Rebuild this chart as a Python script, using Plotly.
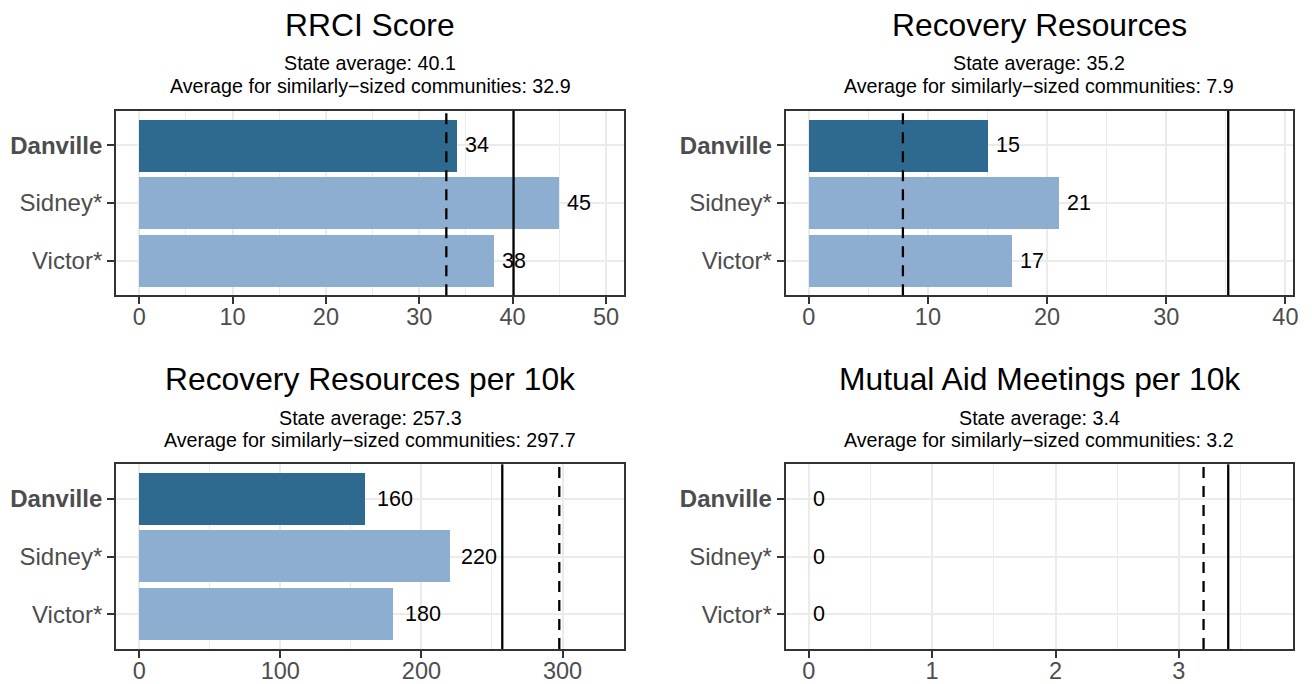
import plotly.graph_objects as go

# ---------------- data ----------------
communities = ["Danville", "Sidney*", "Victor*"]
highlight = "Danville"
metric_titles = ["RRCI Score", "Recovery Resources",
                 "Recovery Resources per 10k", "Mutual Aid Meetings per 10k"]
rrci_score = [34, 45, 38]
recovery_resources = [15, 21, 17]
recovery_resources_per10k = [160, 220, 180]
mutual_aid_per10k = [0, 0, 0]
state_avg = [40.1, 35.2, 257.3, 3.4]
similar_avg = [32.9, 7.9, 297.7, 3.2]
major_dtick = [10, 10, 100, 1]

series = [rrci_score, recovery_resources, recovery_resources_per10k, mutual_aid_per10k]

# ---------------- style ----------------
W, H = 1312, 684
FONT = "Liberation Sans, Arial, Helvetica, sans-serif"
DARK = "#2E6A8F"
LIGHT = "#8DAED1"
GRID = "#EBEBEB"
BORDER = "#333333"
TICKTXT = "#4D4D4D"

# panel boxes in pixels: (left, right, top, bottom)
boxes = [
    (116.5, 626.8, 111, 295.7),
    (788.7, 1298.2, 111, 295.7),
    (116.5, 626.8, 465, 650),
    (788.7, 1298.2, 465, 650),
]
title_y = [25, 25, 380, 380]
sub1_y = [63, 63, 419, 419]
sub2_y = [86, 86, 441, 441]

fig = go.Figure()
annotations = []
shapes = []

for i in range(4):
    vals = series[i]
    xa = "x" if i == 0 else f"x{i+1}"
    ya = "y" if i == 0 else f"y{i+1}"
    colors = [DARK if c == highlight else LIGHT for c in communities]
    fig.add_trace(go.Bar(
        x=vals, y=communities, orientation="h", width=0.9,
        marker=dict(color=colors, line=dict(width=0)),
        xaxis=xa, yaxis=ya, showlegend=False, hoverinfo="skip",
    ))

    l, r, t, b = boxes[i]
    xdom = [l / W, r / W]
    ydom = [1 - b / H, 1 - t / H]
    M = max(max(vals), state_avg[i], similar_avg[i]) * 1.1
    xr = [-0.05 * M, 1.05 * M]
    dt = major_dtick[i]

    xkey = "xaxis" if i == 0 else f"xaxis{i+1}"
    ykey = "yaxis" if i == 0 else f"yaxis{i+1}"
    fig.update_layout(**{
        xkey: dict(
            domain=xdom, anchor=ya, range=xr, tick0=0, dtick=dt,
            showgrid=True, gridcolor=GRID, gridwidth=2, zeroline=False,
            minor=dict(dtick=dt / 2, tick0=0, showgrid=True, gridcolor=GRID, gridwidth=1),
            showline=True, mirror=True, linecolor=BORDER, linewidth=2,
            ticks="outside", ticklen=7, tickwidth=2, tickcolor=BORDER,
            tickfont=dict(family=FONT, size=23.5, color=TICKTXT),
            ticklabelstandoff=-7, fixedrange=True,
        ),
        ykey: dict(
            domain=ydom, anchor=xa, type="category",
            categoryorder="array", categoryarray=communities,
            range=[2.6, -0.6],
            tickvals=communities,
            ticktext=[f"<b>{c}</b>" if c == highlight else c for c in communities],
            showgrid=True, gridcolor=GRID, gridwidth=2, zeroline=False,
            showline=True, mirror=True, linecolor=BORDER, linewidth=2,
            ticks="outside", ticklen=7, tickwidth=2, tickcolor=BORDER,
            tickfont=dict(family=FONT, size=24, color=TICKTXT),
            ticklabelstandoff=0, fixedrange=True,
        ),
    })

    # reference lines: state average (solid) and similar-size average (dashed)
    shapes.append(dict(type="line", xref=xa, yref=f"{ya} domain",
                       x0=state_avg[i], x1=state_avg[i], y0=0, y1=1,
                       line=dict(color="black", width=2.3)))
    shapes.append(dict(type="line", xref=xa, yref=f"{ya} domain",
                       x0=similar_avg[i], x1=similar_avg[i], y0=0, y1=1,
                       line=dict(color="black", width=2.3, dash="11px,8px")))

    # value labels
    for c, v in zip(communities, vals):
        lab = f"{v:.0f}"
        tw = len(lab) * 0.556 * 21.5
        annotations.append(dict(
            x=v, y=c, xref=xa, yref=ya, text=lab, showarrow=False,
            xanchor="left", yanchor="middle", xshift=0.3 * tw - 1,
            font=dict(family=FONT, size=21.5, color="black"),
        ))

    cx = (l + r) / 2 / W
    annotations.append(dict(x=cx, y=1 - title_y[i] / H, xref="paper", yref="paper",
                            text=metric_titles[i], showarrow=False,
                            xanchor="center", yanchor="middle",
                            font=dict(family=FONT, size=31.8, color="black")))
    annotations.append(dict(x=cx, y=1 - sub1_y[i] / H, xref="paper", yref="paper",
                            text=f"State average: {state_avg[i]}", showarrow=False,
                            xanchor="center", yanchor="middle",
                            font=dict(family=FONT, size=19.7, color="black")))
    annotations.append(dict(x=cx, y=1 - sub2_y[i] / H, xref="paper", yref="paper",
                            text=f"Average for similarly\u2212sized communities: {similar_avg[i]}",
                            showarrow=False, xanchor="center", yanchor="middle",
                            font=dict(family=FONT, size=19.7, color="black")))

fig.update_layout(
    width=W, height=H, margin=dict(l=0, r=0, t=0, b=0),
    paper_bgcolor="white", plot_bgcolor="white",
    annotations=annotations, shapes=shapes, bargap=0,
    showlegend=False,
)

fig.write_html("out.html", config={"displayModeBar": False},
               post_script="document.body.style.margin='0';document.body.style.overflow='hidden';")
